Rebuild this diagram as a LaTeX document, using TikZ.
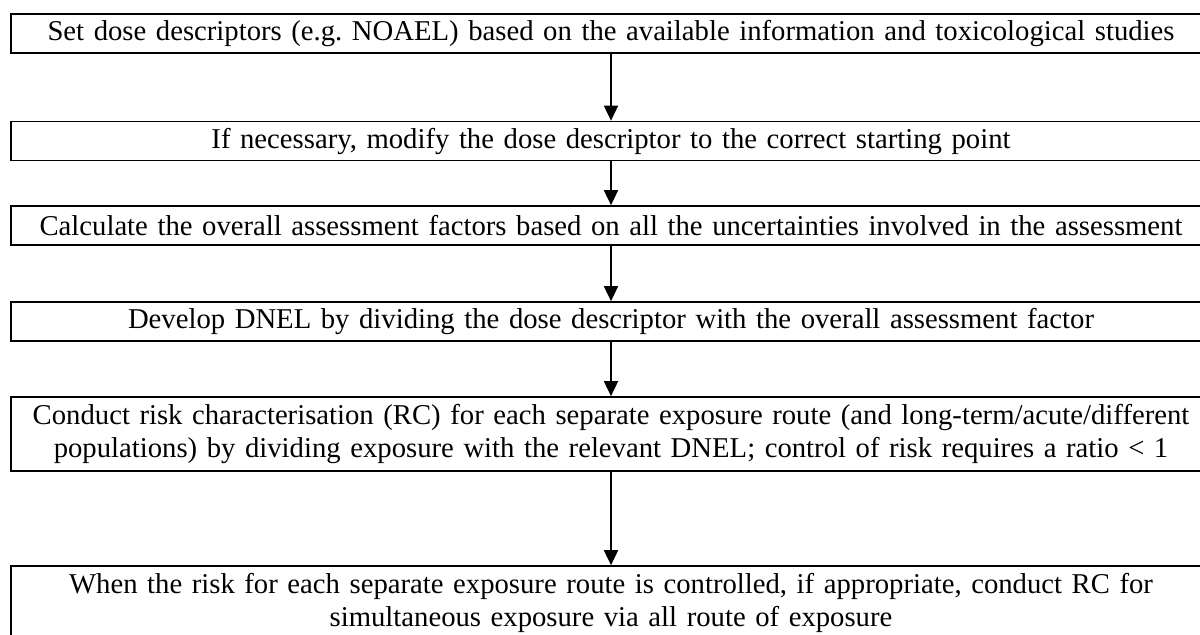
\documentclass[tikz,border=0pt]{standalone}
\usepackage{fontspec}
\setmainfont{Liberation Serif}
\usetikzlibrary{arrows.meta}
\frenchspacing

\begin{document}
\begin{tikzpicture}[x=0.5pt,y=-0.5pt,
  stepbox/.style={draw=black, line width=0.85pt, rectangle, inner sep=0pt,
    minimum width=600pt, text width=596pt, align=center,
    font=\fontsize{14.35pt}{16.5pt}\selectfont},
  onebox/.style={stepbox, minimum height=19.5pt},
  twobox/.style={stepbox, minimum height=37pt},
  flow/.style={line width=0.85pt, -{Triangle[width=7pt,length=7.5pt]}}]
  \useasboundingbox (0,0) rectangle (1200,634);
  \clip (0,0) rectangle (1200,634);

  % process steps, top to bottom
  \node[onebox] (s1) at (611,33.5) {Set dose descriptors (e.g. NOAEL) based on the available information and toxicological studies};
  \node[onebox] (s2) at (611,141) {If necessary, modify the dose descriptor to the correct starting point};
  \node[onebox] (s3) at (611,225.5) {Calculate the overall assessment factors based on all the uncertainties involved in the assessment};
  \node[onebox] (s4) at (611,321.5) {Develop DNEL by dividing the dose descriptor with the overall assessment factor};
  \node[twobox] (s5) at (611,434) {Conduct risk characterisation (RC) for each separate exposure route (and long-term/acute/different\\ populations) by dividing exposure with the relevant DNEL; control of risk requires a ratio < 1};
  \node[twobox] (s6) at (611,603) {When the risk for each separate exposure route is controlled, if appropriate, conduct RC for\\ simultaneous exposure via all route of exposure};

  % connectors
  \draw[flow] (s1) -- (s2);
  \draw[flow] (s2) -- (s3);
  \draw[flow] (s3) -- (s4);
  \draw[flow] (s4) -- (s5);
  \draw[flow] (s5) -- (s6);
\end{tikzpicture}
\end{document}
